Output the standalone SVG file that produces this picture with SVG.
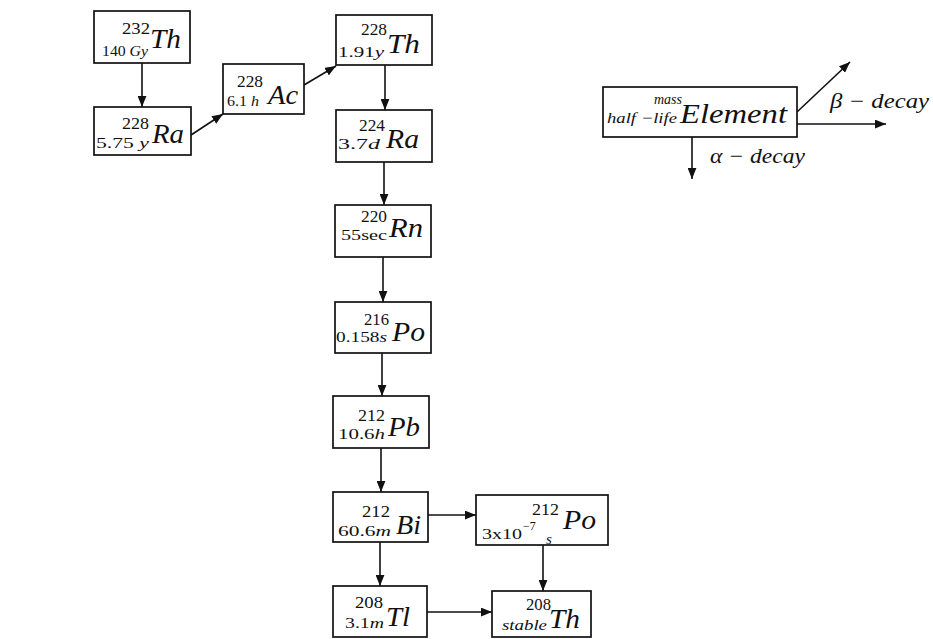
<svg xmlns="http://www.w3.org/2000/svg" width="933" height="639" viewBox="0 0 933 639">
<defs>
<marker id="ah" viewBox="0 0 10 8" refX="10" refY="4" markerWidth="11" markerHeight="9" markerUnits="userSpaceOnUse" orient="auto">
<path d="M0,0 L10,4 L0,8 Z" fill="#111"/>
</marker>
</defs>
<style>
.box{fill:#fff;stroke:#111;stroke-width:1.7}
text{font-family:"Liberation Serif","Times New Roman",serif;fill:#111}
.m{font-size:16px}
.h{font-size:15px}
.i{font-style:italic}
.el{font-size:28px;font-style:italic}
.lg{font-size:15px;font-style:italic}
.lt{font-size:21px;font-style:italic}
.c{stroke:#111;stroke-width:1.6;fill:none;marker-end:url(#ah)}
</style>
<rect width="933" height="639" fill="#fff"/>
<g id="connectors">
<line class="c" x1="142" y1="63" x2="142" y2="107"/>
<line class="c" x1="191" y1="135" x2="223" y2="114"/>
<line class="c" x1="304" y1="85" x2="336" y2="66"/>
<line class="c" x1="385" y1="65" x2="385" y2="110"/>
<line class="c" x1="384" y1="162" x2="384" y2="205"/>
<line class="c" x1="383" y1="257" x2="383" y2="302"/>
<line class="c" x1="382" y1="353" x2="382" y2="396"/>
<line class="c" x1="381" y1="448" x2="381" y2="492"/>
<line class="c" x1="380" y1="542" x2="380" y2="586"/>
<line class="c" x1="428" y1="515" x2="476" y2="515"/>
<line class="c" x1="427" y1="612" x2="492" y2="612"/>
<line class="c" x1="543" y1="545" x2="543" y2="591"/>
<line class="c" x1="692" y1="137" x2="692" y2="179"/>
<line class="c" x1="797" y1="112" x2="850" y2="62"/>
<line class="c" x1="797" y1="124" x2="886" y2="124"/>
</g>
<g id="n-th232">
<rect class="box" x="94" y="11" width="96" height="52"/>
<text class="m" x="122" y="34" textLength="28" lengthAdjust="spacingAndGlyphs">232</text>
<text class="h" x="102" y="56" textLength="46" lengthAdjust="spacingAndGlyphs">140 <tspan class="i">Gy</tspan></text>
<text class="el" x="150" y="48" textLength="31" lengthAdjust="spacingAndGlyphs">Th</text>
</g>
<g id="n-ra228">
<rect class="box" x="94" y="107" width="97" height="48"/>
<text class="m" x="122" y="129" textLength="27" lengthAdjust="spacingAndGlyphs">228</text>
<text class="h" x="96" y="148" textLength="53" lengthAdjust="spacingAndGlyphs">5.75 <tspan class="i">y</tspan></text>
<text class="el" x="152" y="143" textLength="32" lengthAdjust="spacingAndGlyphs">Ra</text>
</g>
<g id="n-ac228">
<rect class="box" x="223" y="64" width="81" height="50"/>
<text class="m" x="237" y="87" textLength="26" lengthAdjust="spacingAndGlyphs">228</text>
<text class="h" x="227" y="106" textLength="32" lengthAdjust="spacingAndGlyphs">6.1 <tspan class="i">h</tspan></text>
<text class="el" x="268" y="104" textLength="30" lengthAdjust="spacingAndGlyphs">Ac</text>
</g>
<g id="n-th228">
<rect class="box" x="336" y="15" width="96" height="50"/>
<text class="m" x="361" y="35" textLength="26" lengthAdjust="spacingAndGlyphs">228</text>
<text class="h" x="338" y="57" textLength="46" lengthAdjust="spacingAndGlyphs">1.91<tspan class="i">y</tspan></text>
<text class="el" x="387" y="53" textLength="33" lengthAdjust="spacingAndGlyphs">Th</text>
</g>
<g id="n-ra224">
<rect class="box" x="336" y="110" width="96" height="52"/>
<text class="m" x="359" y="131" textLength="26" lengthAdjust="spacingAndGlyphs">224</text>
<text class="h" x="338" y="149" textLength="42" lengthAdjust="spacingAndGlyphs">3.7<tspan class="i">d</tspan></text>
<text class="el" x="386" y="148" textLength="33" lengthAdjust="spacingAndGlyphs">Ra</text>
</g>
<g id="n-rn220">
<rect class="box" x="335" y="205" width="96" height="52"/>
<text class="m" x="361" y="222" textLength="26" lengthAdjust="spacingAndGlyphs">220</text>
<text class="h" x="341" y="240" textLength="46" lengthAdjust="spacingAndGlyphs">55sec</text>
<text class="el" x="389" y="237" textLength="34" lengthAdjust="spacingAndGlyphs">Rn</text>
</g>
<g id="n-po216">
<rect class="box" x="335" y="302" width="96" height="51"/>
<text class="m" x="364" y="325" textLength="25" lengthAdjust="spacingAndGlyphs">216</text>
<text class="h" x="336" y="342" textLength="51" lengthAdjust="spacingAndGlyphs">0.158<tspan class="i">s</tspan></text>
<text class="el" x="392" y="341" textLength="33" lengthAdjust="spacingAndGlyphs">Po</text>
</g>
<g id="n-pb212">
<rect class="box" x="333" y="396" width="96" height="52"/>
<text class="m" x="358" y="421" textLength="27" lengthAdjust="spacingAndGlyphs">212</text>
<text class="h" x="338" y="439" textLength="47" lengthAdjust="spacingAndGlyphs">10.6<tspan class="i">h</tspan></text>
<text class="el" x="388" y="436" textLength="32" lengthAdjust="spacingAndGlyphs">Pb</text>
</g>
<g id="n-bi212">
<rect class="box" x="333" y="492" width="95" height="50"/>
<text class="m" x="362" y="517" textLength="28" lengthAdjust="spacingAndGlyphs">212</text>
<text class="h" x="338" y="536" textLength="53" lengthAdjust="spacingAndGlyphs">60.6<tspan class="i">m</tspan></text>
<text class="el" x="396" y="534" textLength="25" lengthAdjust="spacingAndGlyphs">Bi</text>
</g>
<g id="n-tl208">
<rect class="box" x="333" y="586" width="94" height="51"/>
<text class="m" x="355" y="608" textLength="28" lengthAdjust="spacingAndGlyphs">208</text>
<text class="h" x="345" y="628" textLength="39" lengthAdjust="spacingAndGlyphs">3.1<tspan class="i">m</tspan></text>
<text class="el" x="386" y="626" textLength="24" lengthAdjust="spacingAndGlyphs">Tl</text>
</g>
<g id="n-po212">
<rect class="box" x="476" y="495" width="132" height="50"/>
<text class="m" x="532" y="515" textLength="27" lengthAdjust="spacingAndGlyphs">212</text>
<text class="h" x="482" y="539" textLength="40" lengthAdjust="spacingAndGlyphs">3x10</text>
<text style="font-size:12px" x="523" y="530">−7</text>
<text class="h i" x="546" y="544">s</text>
<text class="el" x="563" y="529" textLength="33" lengthAdjust="spacingAndGlyphs">Po</text>
</g>
<g id="n-th208">
<rect class="box" x="492" y="591" width="99" height="46"/>
<text class="m" x="526" y="610" textLength="25" lengthAdjust="spacingAndGlyphs">208</text>
<text class="h i" x="502" y="630" textLength="45" lengthAdjust="spacingAndGlyphs">stable</text>
<text class="el" x="549" y="628" textLength="31" lengthAdjust="spacingAndGlyphs">Th</text>
</g>
<g id="legend">
<rect class="box" x="603" y="87" width="194" height="50"/>
<text class="lg" x="654" y="104" textLength="28" lengthAdjust="spacingAndGlyphs">mass</text>
<text class="lg" x="607" y="123" textLength="70" lengthAdjust="spacingAndGlyphs">half −life</text>
<text class="el" x="680" y="123" textLength="107" lengthAdjust="spacingAndGlyphs">Element</text>
<text class="lt" x="830" y="108" textLength="99" lengthAdjust="spacingAndGlyphs">β − decay</text>
<text class="lt" x="710" y="163" textLength="95" lengthAdjust="spacingAndGlyphs">α − decay</text>
</g>
</svg>
